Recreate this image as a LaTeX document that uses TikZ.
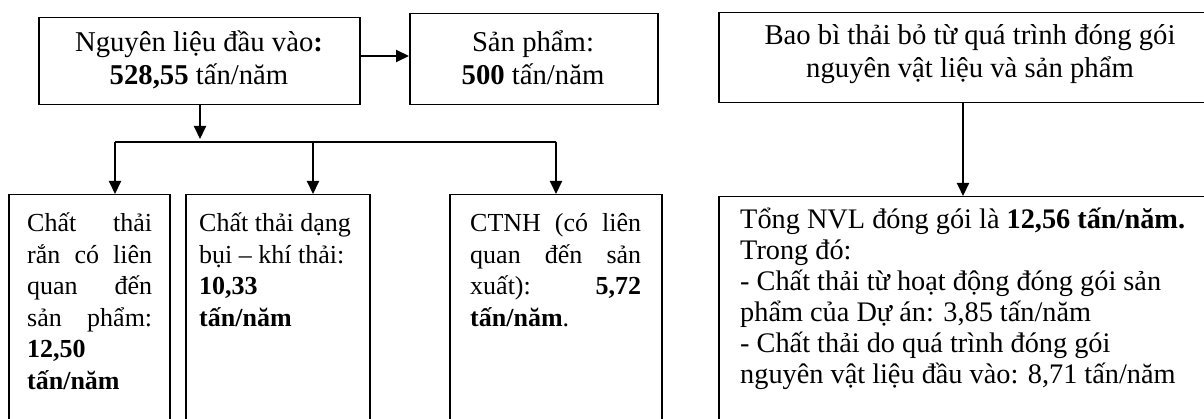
\documentclass[tikz,border=0pt]{standalone}
\usepackage{fontspec}
\setmainfont{Liberation Serif}
\usetikzlibrary{arrows.meta,calc}

\newcommand{\bigsize}{\fontsize{28.7}{33}\selectfont}
\newcommand{\notesize}{\fontsize{28.3}{31}\selectfont}
\newcommand{\bodysize}{\fontsize{26}{31.5}\selectfont}
% a justified line of a given width
\newcommand{\jline}[2]{\makebox[#1][s]{#2}}

\begin{document}
\begin{tikzpicture}[x=1pt,y=-1pt,
    box/.style={draw, line width=1.5pt, rectangle, inner sep=0pt, anchor=north west},
    txt/.style={inner sep=0pt},
    arr/.style={line width=2pt, -{Triangle[length=13pt,width=12pt]}},
    link/.style={line width=2pt}]
  \useasboundingbox (0,0) rectangle (1204,419);
  \clip (0,0) rectangle (1204,419);

  % boxes (the lower and right ones run past the page edge)
  \node[box, minimum width=321pt, minimum height=87pt] (src) at (38,17) {};
  \node[box, minimum width=248pt, minimum height=91pt] (prod) at (409,13) {};
  \node[box, minimum width=161pt, minimum height=260pt] (solid) at (8,194) {};
  \node[box, minimum width=184pt, minimum height=260pt] (dust) at (185,194) {};
  \node[box, minimum width=212pt, minimum height=260pt] (haz) at (449,194) {};
  \node[box, minimum width=512pt, minimum height=90pt] (pack) at (718,12) {};
  \node[box, minimum width=512pt, minimum height=260pt] (packsum) at (718,196) {};

  % texts
  \node[txt, anchor=base] (tsrc) at (199,52)
    {\parbox[t]{320pt}{\bigsize\centering Nguyên liệu đầu vào\textbf{:}\\\textbf{528,55} tấn/năm}};
  \node[txt, anchor=base] (tprod) at (533,52)
    {\parbox[t]{240pt}{\bigsize\centering Sản phẩm:\\\textbf{500} tấn/năm}};
  \node[txt, anchor=base] (tpack) at (970,45)
    {\parbox[t]{500pt}{\bigsize\centering Bao bì thải bỏ từ quá trình đóng gói\\nguyên vật liệu và sản phẩm}};

  \node[txt, anchor=base west] (tsolid) at (27,232)
    {\parbox[t]{125pt}{\bodysize
      \jline{125pt}{Chất thải}\\
      \jline{125pt}{rắn có liên}\\
      \jline{125pt}{quan đến}\\
      \jline{125pt}{sản phẩm:}\\
      \textbf{12,50}\\
      \textbf{tấn/năm}}};
  \node[txt, anchor=base west] (tdust) at (199,232)
    {\parbox[t]{160pt}{\bodysize
      Chất thải dạng\\
      bụi – khí thải:\\
      \textbf{10,33}\\
      \textbf{tấn/năm}}};
  \node[txt, anchor=base west] (thaz) at (470,232)
    {\parbox[t]{171pt}{\bodysize
      \jline{171pt}{CTNH (có liên}\\
      \jline{171pt}{quan đến sản}\\
      \jline{171pt}{xuất): \textbf{5,72}}\\
      \textbf{tấn/năm}.}};
  \node[txt, anchor=base west] (tpacksum) at (740,229)
    {\parbox[t]{460pt}{\notesize
      Tổng NVL đóng gói là \textbf{12,56 tấn/năm.}\\
      Trong đó:\\
      - Chất thải từ hoạt động đóng gói sản\\
      phẩm của Dự án: 3,85 tấn/năm\\
      - Chất thải do quá trình đóng gói\\
      nguyên vật liệu đầu vào: 8,71 tấn/năm}};

  % branching points
  \coordinate (split) at (200,142);
  \coordinate (splitL) at (115,142);
  \coordinate (splitM) at (313,142);
  \coordinate (splitR) at (556,142);

  % connectors
  \draw[arr] (src.east |- 0,56) -- (prod.west |- 0,56);
  \draw[arr] (split |- src.south) -- ($(split)+(0,-3)$);
  \draw[link] (splitL) -- (splitR);
  \draw[arr] (splitL) -- (splitL |- solid.north);
  \draw[arr] (splitM) -- (splitM |- dust.north);
  \draw[arr] (splitR) -- (splitR |- haz.north);
  \draw[arr] (963,0 |- pack.south) -- (963,0 |- packsum.north);
\end{tikzpicture}
\end{document}
